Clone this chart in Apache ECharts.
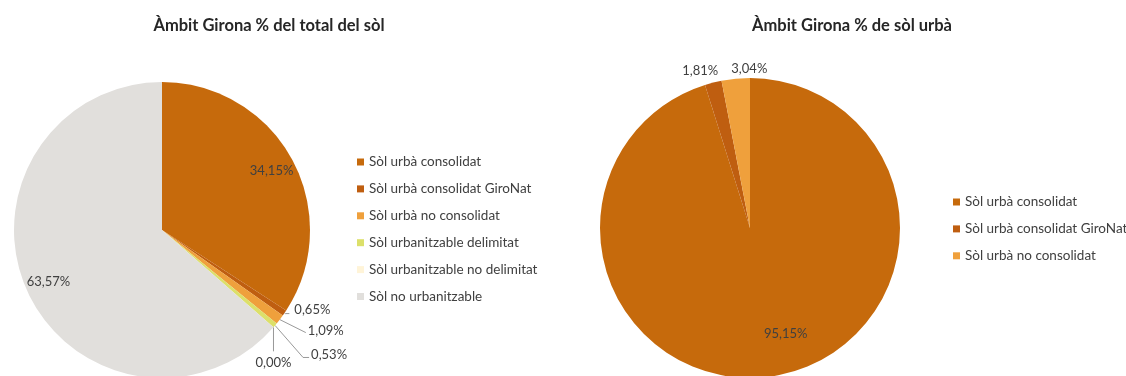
<!DOCTYPE html>
<html>
<head>
<meta charset="utf-8">
<script src="https://cdn.jsdelivr.net/npm/echarts@6/dist/echarts.min.js"></script>
<style>
html,body{margin:0;padding:0;background:#fff;}
#c{width:1126px;height:376px;}
</style>
</head>
<body>
<div id="c"></div>
<script>
const titleTotal = "Àmbit Girona % del total del sòl";
const titleUrba = "Àmbit Girona % de sòl urbà";
const categoriesTotal = ["Sòl urbà consolidat", "Sòl urbà consolidat GiroNat", "Sòl urbà no consolidat", "Sòl urbanitzable delimitat", "Sòl urbanitzable no delimitat", "Sòl no urbanitzable"];
const valuesTotal = [34.15, 0.65, 1.09, 0.53, 0.00, 63.57];
const categoriesUrba = ["Sòl urbà consolidat", "Sòl urbà consolidat GiroNat", "Sòl urbà no consolidat"];
const valuesUrba = [95.15, 1.81, 3.04];

const colorMap = {
  "Sòl urbà consolidat": "#C66A0C",
  "Sòl urbà consolidat GiroNat": "#BF5E10",
  "Sòl urbà no consolidat": "#EFA03C",
  "Sòl urbanitzable delimitat": "#DCE06A",
  "Sòl urbanitzable no delimitat": "#FFF4D8",
  "Sòl no urbanitzable": "#E1DFDC"
};
const FONT = "Lato";
const fmt = p => p.value.toFixed(2).replace('.', ',') + '%';
const insideThreshold = 10;

// leader-line styling for the small outside labels of the left pie
const leftLineLen = [0, 1, 30, 44, 0, 0];
const leftLineLen2 = [0, 4, 2, 4, 0, 0];

function buildData(cats, vals, len, len2) {
  return cats.map((c, i) => {
    const inside = vals[i] >= insideThreshold;
    const d = {
      name: c,
      value: vals[i],
      itemStyle: { color: colorMap[c] },
      label: inside ? { position: 'inside' } : { position: 'outside' }
    };
    if (len) {
      d.labelLine = { show: !inside, length: len[i], length2: len2[i] };
    }
    return d;
  });
}

const chart = echarts.init(document.getElementById('c'), null, { renderer: 'canvas' });

function radialPush(params, center, factor) {
  const r = params.labelRect;
  const cx = r.x + r.width / 2, cy = r.y + r.height / 2;
  return { dx: (cx - center[0]) * factor, dy: (cy - center[1]) * factor };
}

// leader line bent from the slice edge point computed by the library
function bentLine(params, ox, oy, tail, tx, ty, align) {
  const p0 = params.labelLinePoints[0];
  const p1 = [p0[0] + ox, p0[1] + oy];
  const p2 = [p1[0] + tail, p1[1]];
  return {
    x: p0[0] + tx, y: p0[1] + ty, align: align, verticalAlign: 'middle',
    labelLinePoints: [[p0[0], p0[1]], p1, p2]
  };
}

const leftCenter = [162, 230];
const rightCenter = [750, 228];
const labelStyle = { formatter: fmt, fontFamily: FONT, fontSize: 13, color: '#404040' };

const option = {
  animation: false,
  textStyle: { fontFamily: FONT },
  title: [
    { text: titleTotal, left: 264, top: 12, textAlign: 'center',
      textStyle: { fontFamily: FONT, fontSize: 16.5, fontWeight: 'bold', color: '#262626' } },
    { text: titleUrba, left: 847, top: 12, textAlign: 'center',
      textStyle: { fontFamily: FONT, fontSize: 16.5, fontWeight: 'bold', color: '#262626' } }
  ],
  legend: [
    { orient: 'vertical', left: 357, top: 155, padding: 0, data: categoriesTotal,
      icon: 'rect', itemWidth: 7, itemHeight: 7, itemGap: 12.9,
      textStyle: { fontFamily: FONT, fontSize: 13.5, color: '#404040' } },
    { orient: 'vertical', left: 953, top: 195, padding: 0, data: categoriesUrba,
      icon: 'rect', itemWidth: 7, itemHeight: 7, itemGap: 12.9,
      textStyle: { fontFamily: FONT, fontSize: 13.5, color: '#404040' } }
  ],
  series: [
    {
      type: 'pie',
      center: leftCenter,
      radius: 148,
      startAngle: 90,
      clockwise: true,
      avoidLabelOverlap: false,
      label: labelStyle,
      labelLine: { lineStyle: { color: '#7f7f7f', width: 0.8 } },
      labelLayout: function (params) {
        const i = params.dataIndex;
        if (i === 0 || i === 5) {
          return radialPush(params, leftCenter, 0.62);
        }
        if (!params.labelLinePoints) return { dy: -4 };
        if (i === 2) return bentLine(params, 26, 13, 0, 28, 11, 'left');
        if (i === 3) return bentLine(params, 28, 32, 6, 36, 29, 'left');
        if (i === 4) return bentLine(params, 0, 24, 0, 0, 35, 'center');
        return { dy: -4 };
      },
      emphasis: { disabled: true },
      data: buildData(categoriesTotal, valuesTotal, leftLineLen, leftLineLen2)
    },
    {
      type: 'pie',
      center: rightCenter,
      radius: 150,
      startAngle: 90,
      clockwise: true,
      avoidLabelOverlap: false,
      label: labelStyle,
      labelLine: { show: false, length: 4, length2: 0 },
      labelLayout: function (params) {
        const i = params.dataIndex;
        if (i === 0) {
          const p = radialPush(params, rightCenter, 0.5);
          return { dx: p.dx + 18, dy: p.dy - 10 };
        }
        if (i === 1) return { dx: 11, dy: -8 };
        if (i === 2) return { dx: 37, dy: -6 };
        return {};
      },
      emphasis: { disabled: true },
      data: buildData(categoriesUrba, valuesUrba)
    }
  ]
};
chart.setOption(option);
</script>
</body>
</html>
